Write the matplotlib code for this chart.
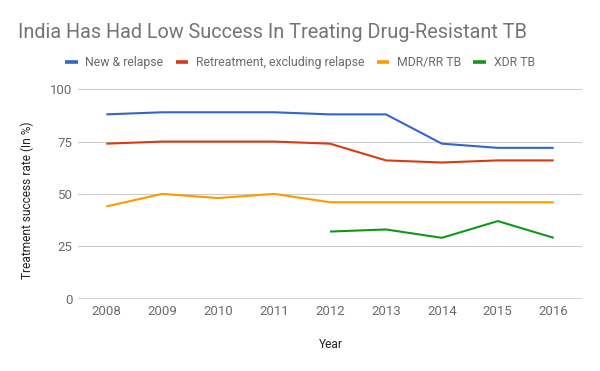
import matplotlib
matplotlib.use("Agg")
import matplotlib.pyplot as plt
import numpy as np

plt.rcParams['font.family'] = ['Roboto', 'DejaVu Sans']

years = ['2008', '2009', '2010', '2011', '2012', '2013', '2014', '2015', '2016']
new_relapse = [88, 89, 89, 89, 88, 88, 74, 72, 72]
retreatment = [74, 75, 75, 75, 74, 66, 65, 66, 66]
mdr_rr = [44, 50, 48, 50, 46, 46, 46, 46, 46]
xdr = [np.nan, np.nan, np.nan, np.nan, 32, 33, 29, 37, 29]
series_names = ['New & relapse', 'Retreatment, excluding relapse', 'MDR/RR TB', 'XDR TB']
colors = ['#3366cc', '#dc3912', '#ff9900', '#109618']
yticks = [0, 25, 50, 75, 100]

fig = plt.figure(figsize=(6, 3.71), dpi=100)
ax = fig.add_axes([0.1305, 0.1954, 0.839, 0.564])

x = np.arange(len(years))
lines = []
for vals, name, c in zip([new_relapse, retreatment, mdr_rr, xdr], series_names, colors):
    ln, = ax.plot(x, vals, color=c, lw=1.5, label=name, solid_capstyle='butt', zorder=3)
    lines.append(ln)

ax.set_xlim(-0.5, len(years) - 0.5)
ax.set_ylim(0, 100)
ax.set_yticks(yticks)
ax.set_xticks(x)
ax.set_xticklabels(years)
for s in ax.spines.values():
    s.set_visible(False)
ax.grid(axis='y', color='#cccccc', lw=0.8, zorder=0)
ax.axhline(0, color='#333333', lw=1, zorder=2)
ax.tick_params(axis='both', length=0, labelsize=9.5, colors='#6a6a6a')
ax.tick_params(axis='y', pad=4)
ax.tick_params(axis='x', pad=4.5)

fig.text(27.3 / 600, 1 - 200.4 / 371, 'Treatment success rate (In %)', fontsize=8.6,
         color='#222222', rotation=90, ha='center', va='center')
fig.text(330.5 / 600, 1 - 348.3 / 371, 'Year', fontsize=8.6, color='#222222',
         ha='center', va='baseline')

fig.text(18.5 / 600, 1 - 38.3 / 371, 'India Has Had Low Success In Treating Drug-Resistant TB',
         fontsize=14.35, color='#757575', va='baseline', ha='left')

leg = fig.legend(handles=lines, loc='center', bbox_to_anchor=(300 / 600, 1 - 62.5 / 371), ncol=4,
                 frameon=False, fontsize=8.8, handlelength=1.0, handletextpad=0.65,
                 columnspacing=1.0, labelcolor='#6a6a6a', borderpad=0, borderaxespad=0)
for h in leg.legend_handles:
    h.set_linewidth(2.6)
    h.set_solid_capstyle('butt')

fig.savefig('out.png', dpi=100)
